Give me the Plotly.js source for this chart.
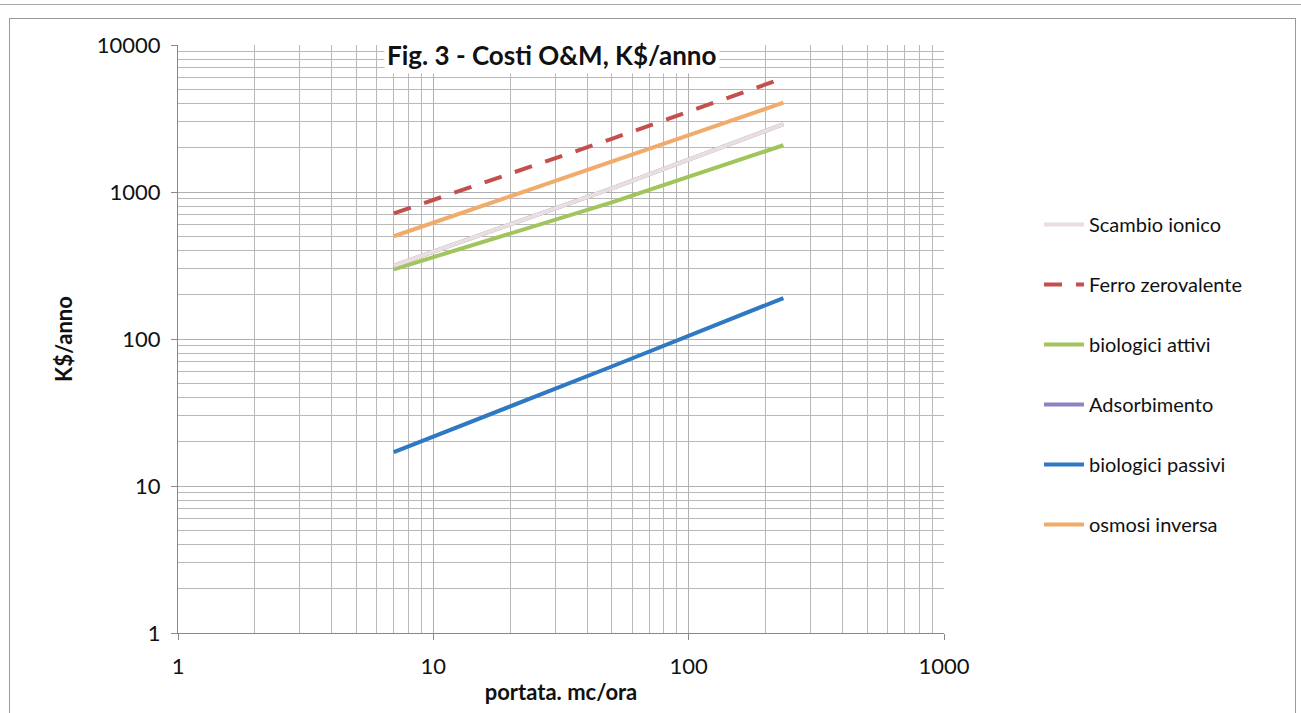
<!DOCTYPE html>
<html><head><meta charset="utf-8">
<script src="https://cdn.plot.ly/plotly-3.0.1.min.js"></script>
<style>
body{margin:0;padding:0;background:#fff;}
#wrap{position:relative;width:1301px;height:713px;}
#chart{width:1301px;height:713px;}
#frame{position:absolute;left:9px;top:18px;width:1285px;height:700px;border:1.5px solid #999;pointer-events:none;}
#topline{position:absolute;left:0;top:4px;width:1301px;height:0;border-top:1.5px solid #aaa;pointer-events:none;}
</style></head>
<body>
<div id="wrap"><div id="chart"></div><div id="frame"></div><div id="topline"></div></div>
<script>
// portata, mc/ora
const portata = [7, 50, 235];
// K$/anno per series
const scambioIonico = [315, 1060, 2900];
const ferroZerovalente = [715, 2300, 5950];
const biologiciAttivi = [298, 850, 2080];
const adsorbimento = [315, 1060, 2900];
const biologiciPassivi = [17, 65, 190];
const osmosiInversa = [500, 1600, 4050];
// tick labels
const xTickVals = [1, 10, 100, 1000];
const xTickText = ['1', '10', '100', '1000'];
const yTickVals = [1, 10, 100, 1000, 10000];
const yTickText = ['1', '10', '100', '1000', '10000'];

const font = "Lato, 'Open Sans', 'DejaVu Sans', sans-serif";

function tr(name, y, color, rank, dash){
  return {x: portata, y: y, name: name, type: 'scatter', mode: 'lines',
    line: {color: color, width: 4, dash: dash || 'solid'},
    legendgroup: name, legendrank: rank};
}
const data = [
  tr('biologici passivi', biologiciPassivi, '#2f78c2', 5),
  tr('biologici attivi', biologiciAttivi, '#a2c45c', 3),
  tr('Adsorbimento', adsorbimento, '#8a84c4', 4),
  tr('Scambio ionico', scambioIonico, '#eadede', 1),
  tr('osmosi inversa', osmosiInversa, '#f1ac6c', 6),
  tr('Ferro zerovalente', ferroZerovalente, '#c4504e', 2, '18px,14px')
];

const axisCommon = {
  type: 'log', showline: true, linecolor: '#888', linewidth: 1,
  showgrid: true, gridcolor: '#b0b0b0', gridwidth: 1,
  ticks: 'outside', ticklen: 6, tickcolor: '#888',
  tickfont: {family: font, size: 22, color: '#111'},
  minor: {dtick: 'D1', showgrid: true, gridcolor: '#b8b8b8', gridwidth: 1, ticks: ''},
  zeroline: false, fixedrange: true, tickmode: 'array'
};

const layout = {
  width: 1301, height: 713,
  margin: {l: 178, r: 357, t: 45, b: 80},
  paper_bgcolor: '#fff', plot_bgcolor: '#fff',
  showlegend: true,
  xaxis: Object.assign({}, axisCommon, {range: [0, 3], tickvals: xTickVals, ticktext: xTickText,
    title: {text: 'portata. mc/ora', font: {family: font, size: 22, color: '#111', weight: 'bold'}, standoff: 6},
    ticklabelstandoff: 8}),
  yaxis: Object.assign({}, axisCommon, {range: [0, 4], tickvals: yTickVals, ticktext: yTickText,
    title: {text: 'K$/anno', font: {family: font, size: 22, color: '#111', weight: 'bold'}, standoff: 18},
    ticklabelstandoff: 6}),
  legend: {x: 1.124, xanchor: 'left', y: 0.728, yanchor: 'top',
    font: {family: font, size: 20, color: '#111'}, tracegroupgap: 31,
    bgcolor: 'rgba(0,0,0,0)', itemwidth: 40, traceorder: 'grouped'},
  annotations: [{
    text: '<b>Fig. 3 - Costi O&amp;M, K$/anno</b>', xref: 'paper', yref: 'paper',
    x: 0.488, y: 0.983, xanchor: 'center', yanchor: 'middle', showarrow: false,
    font: {family: font, size: 26, color: '#111'}, bgcolor: '#fff', borderpad: 2
  }]
};

Plotly.newPlot('chart', data, layout, {staticPlot: true, displayModeBar: false});
</script>
</body></html>
